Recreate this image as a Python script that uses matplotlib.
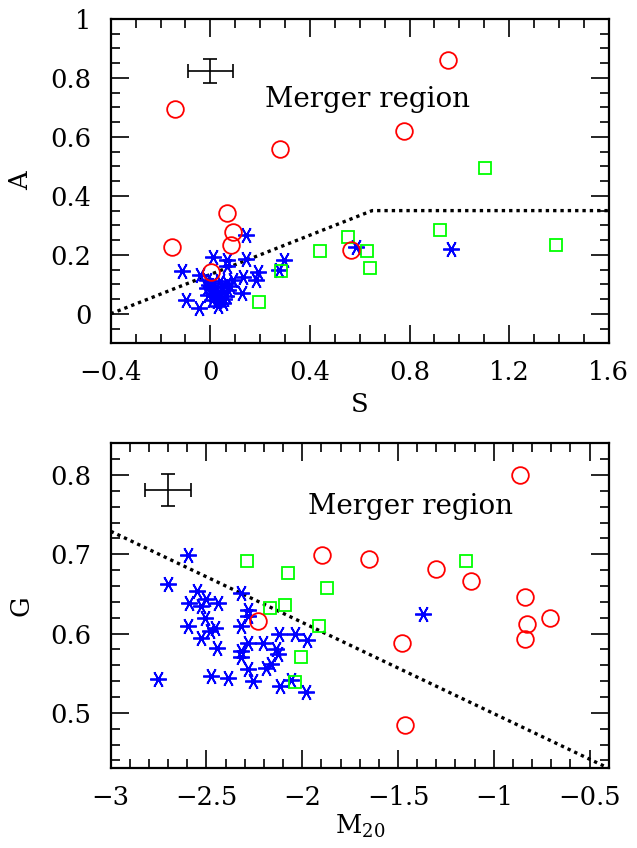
import matplotlib
matplotlib.use("Agg")
import matplotlib.pyplot as plt
import numpy as np

# ── top panel: asymmetry A vs smoothness S ──
s_red = [0.955, -0.142, 0.776, 0.280, 0.069, 0.093, 0.084, -0.155, 0.566, 0.004]
a_red = [0.862, 0.695, 0.621, 0.559, 0.341, 0.278, 0.233, 0.227, 0.215, 0.143]

s_green = [1.105, 0.921, 0.554, 1.387, 0.630, 0.440, 0.641, 0.282, 0.197]
a_green = [0.495, 0.285, 0.260, 0.232, 0.213, 0.213, 0.154, 0.145, 0.039]

s_blue = [0.968, 0.584, 0.144, 0.010, 0.066, 0.143, -0.112, -0.041, 0.068, 0.297,
          0.276, 0.193, 0.184, 0.130, 0.127, -0.099, -0.044, 0.032, 0.092,
          -0.015, 0.012, 0.039, 0.066, -0.012, 0.018, 0.045, 0.072, 0.080,
          -0.010, 0.015, 0.040, 0.063, 0.005, 0.028, 0.055, 0.020, -0.005, 0.050]
a_blue = [0.220, 0.225, 0.268, 0.194, 0.183, 0.185, 0.146, 0.132, 0.163, 0.183,
          0.149, 0.143, 0.115, 0.124, 0.072, 0.047, 0.019, 0.025, 0.115,
          0.115, 0.104, 0.110, 0.104, 0.087, 0.081, 0.090, 0.081, 0.095,
          0.064, 0.059, 0.066, 0.059, 0.047, 0.042, 0.050, 0.070, 0.098, 0.035]

s_line = [-0.4, 0.65, 1.6]
a_line = [0.0, 0.35, 0.35]

# ── bottom panel: Gini G vs M20 ──
m_red = [-0.861, -1.898, -1.652, -1.300, -1.120, -0.839, -0.704, -0.825, -0.839, -1.480, -2.229, -1.461]
g_red = [0.800, 0.699, 0.694, 0.682, 0.666, 0.646, 0.619, 0.612, 0.593, 0.588, 0.616, 0.484]

m_green = [-2.291, -1.143, -2.075, -1.873, -2.170, -2.088, -1.914, -2.004, -2.038]
g_green = [0.692, 0.692, 0.676, 0.657, 0.632, 0.636, 0.609, 0.571, 0.539]

m_blue = [-1.368, -2.595, -2.702, -2.755, -2.548, -2.593, -2.500, -2.438, -2.530, -2.509,
          -2.596, -2.455, -2.482, -2.530, -2.446, -2.321, -2.282, -2.282, -2.321, -2.282,
          -2.205, -2.321, -2.318, -2.139, -2.129, -2.121, -2.039, -1.977, -2.164, -2.191,
          -2.282, -2.259, -2.477, -2.389, -2.116, -2.057, -1.982]
g_blue = [0.624, 0.699, 0.662, 0.543, 0.654, 0.639, 0.643, 0.639, 0.635, 0.620,
          0.609, 0.607, 0.603, 0.594, 0.582, 0.651, 0.630, 0.622, 0.609, 0.588,
          0.588, 0.578, 0.571, 0.580, 0.574, 0.599, 0.599, 0.592, 0.561, 0.557,
          0.555, 0.540, 0.546, 0.544, 0.534, 0.541, 0.526]

m_line = [-3.0, -0.4]
g_line = [-0.115 * m + 0.384 for m in m_line]

plt.rcParams["font.family"] = "DejaVu Serif"
plt.rcParams["mathtext.fontset"] = "dejavuserif"

fig = plt.figure(figsize=(6.37, 8.48), dpi=100)
ax1 = fig.add_axes([0.1738, 0.5952, 0.7818, 0.3824])
ax2 = fig.add_axes([0.1738, 0.0940, 0.7818, 0.3833])

asterisk = (6, 2, 90)
FS = 18.5


def style(ax):
    for sp in ax.spines.values():
        sp.set_linewidth(1.6)
    ax.tick_params(which="both", direction="in", top=True, right=True,
                   labelsize=FS, width=1.2)
    ax.tick_params(axis="x", pad=12)
    ax.tick_params(axis="y", pad=14)
    ax.tick_params(which="major", length=13)
    ax.tick_params(which="minor", length=6.5)


def draw(ax, xl, yl, xb, yb, xg, yg, xr, yr):
    ax.plot(xl, yl, color="black", linestyle=(0, (1, 1.2)), linewidth=2.4)
    ax.plot(xb, yb, linestyle="none", marker=asterisk, markersize=12,
            markeredgecolor="#0000ff", markeredgewidth=1.3)
    ax.plot(xg, yg, linestyle="none", marker="s", markersize=9,
            markerfacecolor="none", markeredgecolor="#00ff00", markeredgewidth=1.3)
    ax.plot(xr, yr, linestyle="none", marker="o", markersize=12,
            markerfacecolor="none", markeredgecolor="#ff0000", markeredgewidth=1.3)


# top panel
draw(ax1, s_line, a_line, s_blue, a_blue, s_green, a_green, s_red, a_red)
ax1.errorbar([0.0], [0.824], xerr=0.09, yerr=0.04, color="black",
             linewidth=1.2, capsize=5, capthick=1.2)
ax1.text(0.63, 0.727, "Merger region", ha="center", va="center", fontsize=20)
ax1.set_xlim(-0.4, 1.6)
ax1.set_ylim(-0.1, 1.0)
ax1.set_xticks([-0.4, 0, 0.4, 0.8, 1.2, 1.6])
ax1.set_xticklabels(["\u22120.4", "0", "0.4", "0.8", "1.2", "1.6"])
ax1.set_yticks([0, 0.2, 0.4, 0.6, 0.8, 1.0])
ax1.set_yticklabels(["0", "0.2", "0.4", "0.6", "0.8", "1"])
ax1.set_xticks(np.arange(-0.4, 1.61, 0.1), minor=True)
ax1.set_yticks(np.arange(-0.1, 1.01, 0.05), minor=True)
ax1.set_xlabel("S", fontsize=FS, labelpad=5)
ax1.set_ylabel("A", fontsize=FS, labelpad=12)
style(ax1)

# bottom panel
draw(ax2, m_line, g_line, m_blue, g_blue, m_green, g_green, m_red, g_red)
ax2.errorbar([-2.7], [0.781], xerr=0.12, yerr=0.02, color="black",
             linewidth=1.2, capsize=5, capthick=1.2)
ax2.text(-1.437, 0.76, "Merger region", ha="center", va="center", fontsize=20)
ax2.set_xlim(-3.0, -0.4)
ax2.set_ylim(0.43, 0.84)
ax2.set_xticks([-3, -2.5, -2, -1.5, -1, -0.5])
ax2.set_xticklabels(["\u22123", "\u22122.5", "\u22122", "\u22121.5", "\u22121", "\u22120.5"])
ax2.set_yticks([0.5, 0.6, 0.7, 0.8])
ax2.set_yticklabels(["0.5", "0.6", "0.7", "0.8"])
ax2.set_xticks(np.arange(-3.0, -0.39, 0.1), minor=True)
ax2.set_yticks(np.arange(0.44, 0.841, 0.02), minor=True)
ax2.set_xlabel(r"M$_{20}$", fontsize=FS, labelpad=2)
ax2.set_ylabel("G", fontsize=FS, labelpad=12)
style(ax2)

fig.savefig("out.png", dpi=100)
